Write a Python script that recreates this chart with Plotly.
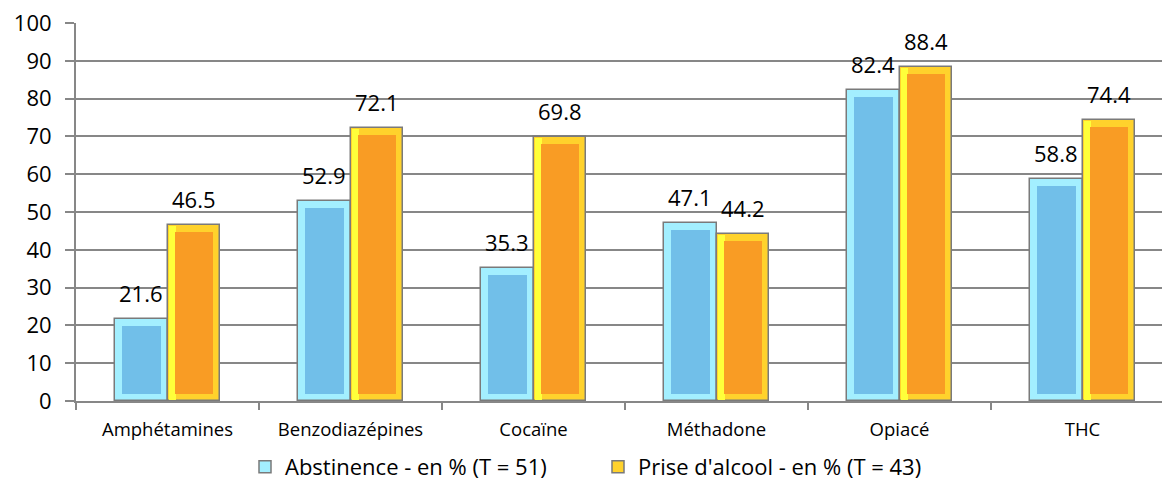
import plotly.graph_objects as go

# Substances tested and the share of positive results per group (%)
categories = ["Amphétamines", "Benzodiazépines", "Cocaïne", "Méthadone", "Opiacé", "THC"]
abstinence = [21.6, 52.9, 35.3, 47.1, 82.4, 58.8]
alcool = [46.5, 72.1, 69.8, 44.2, 88.4, 74.4]
series_names = ["Abstinence - en % (T = 51)", "Prise d'alcool - en % (T = 43)"]
y_ticks = list(range(0, 101, 10))

# Canvas and plot-area geometry
W, H = 1162, 494
MARGIN = dict(l=76, r=0, t=23, b=93)
CAT_PX = 183.0                      # width of one category slot in pixels
plot_w = W - MARGIN["l"] - MARGIN["r"]
plot_h = H - MARGIN["t"] - MARGIN["b"]
units_per_px = 100.0 / plot_h

BAR_PX = 52.5
BEVEL_PX = 7.0
bar_w = BAR_PX / CAT_PX
bevel_x = BEVEL_PX / CAT_PX
bevel_y = BEVEL_PX * units_per_px
edge_y = 1.0 * units_per_px
edge_x = 1.0 / CAT_PX

GRID = "#878787"
OUTLINE = "#7a7a7a"
BLUE_EDGE = "#a3efff"
BLUE_FILL = "#71bfe9"
ORANGE_EDGE = "#ffd22c"
ORANGE_HIGHLIGHT = "#ffff3a"
ORANGE_FILL = "#f99c24"

FONT = "Open Sans"

fig = go.Figure()


def bevel_bar(values, offset, edge, fill, name, highlight=None):
    # outer frame carries the light bevel colour and the grey outline
    fig.add_trace(go.Bar(
        x=categories, y=values, width=bar_w, offset=offset,
        marker=dict(color=edge, line=dict(color=OUTLINE, width=1.5)),
        name=name, showlegend=True, hoverinfo="skip",
    ))
    if highlight is not None:
        # bright strip along the left side of the bar
        fig.add_trace(go.Bar(
            x=categories, y=[v - 2 * edge_y for v in values], base=edge_y,
            width=bevel_x, offset=offset + edge_x,
            marker=dict(color=highlight, line=dict(width=0)),
            showlegend=False, hoverinfo="skip",
        ))
    # inner face of the bar
    fig.add_trace(go.Bar(
        x=categories, y=[v - 2 * bevel_y for v in values], base=bevel_y,
        width=bar_w - 2 * bevel_x, offset=offset + bevel_x,
        marker=dict(color=fill, line=dict(width=0)),
        showlegend=False, hoverinfo="skip",
    ))


bevel_bar(abstinence, -bar_w, BLUE_EDGE, BLUE_FILL, series_names[0])
bevel_bar(alcool, 0.0, ORANGE_EDGE, ORANGE_FILL, series_names[1], ORANGE_HIGHLIGHT)

# value labels above each bar
annotations = []
for cat, a, b in zip(categories, abstinence, alcool):
    for val, shift in ((a, -BAR_PX / 2), (b, BAR_PX / 2)):
        annotations.append(dict(
            x=cat, y=val, xref="x", yref="y", text=f"{val:.1f}",
            showarrow=False, xshift=shift, yshift=26, yanchor="middle",
            font=dict(family=FONT, size=22, color="#000000"),
        ))

x_max = -0.5 + plot_w / CAT_PX

fig.update_layout(
    width=W, height=H, margin=MARGIN,
    paper_bgcolor="white", plot_bgcolor="white",
    barmode="overlay", bargap=0,
    annotations=annotations,
    font=dict(family=FONT, color="#000000"),
    legend=dict(
        orientation="h", x=(245 - MARGIN["l"]) / plot_w, xanchor="left",
        y=-66.0 / plot_h,           # legend centre 66 px below the plot area
        yanchor="middle", font=dict(family=FONT, size=22, color="#000000"),
        entrywidth=308, entrywidthmode="pixels", traceorder="normal",
        bgcolor="rgba(0,0,0,0)",
    ),
    xaxis=dict(
        type="category", categoryorder="array", categoryarray=categories,
        range=[-0.5, x_max], showgrid=False, zeroline=False,
        showline=True, linecolor=GRID, linewidth=2,
        ticks="outside", tickson="boundaries", ticklen=7, tickwidth=2, tickcolor=GRID,
        tickfont=dict(family=FONT, size=18.5, color="#000000"),
        ticklabelstandoff=11,
    ),
    yaxis=dict(
        range=[0, 100], tickvals=y_ticks, showgrid=True, gridcolor=GRID, gridwidth=2,
        zeroline=False, showline=True, linecolor=GRID, linewidth=2,
        ticks="outside", ticklen=9, tickwidth=2, tickcolor=GRID,
        tickfont=dict(family=FONT, size=22, color="#000000"),
        ticklabelstandoff=9,
    ),
)

fig.write_html("out.html")
